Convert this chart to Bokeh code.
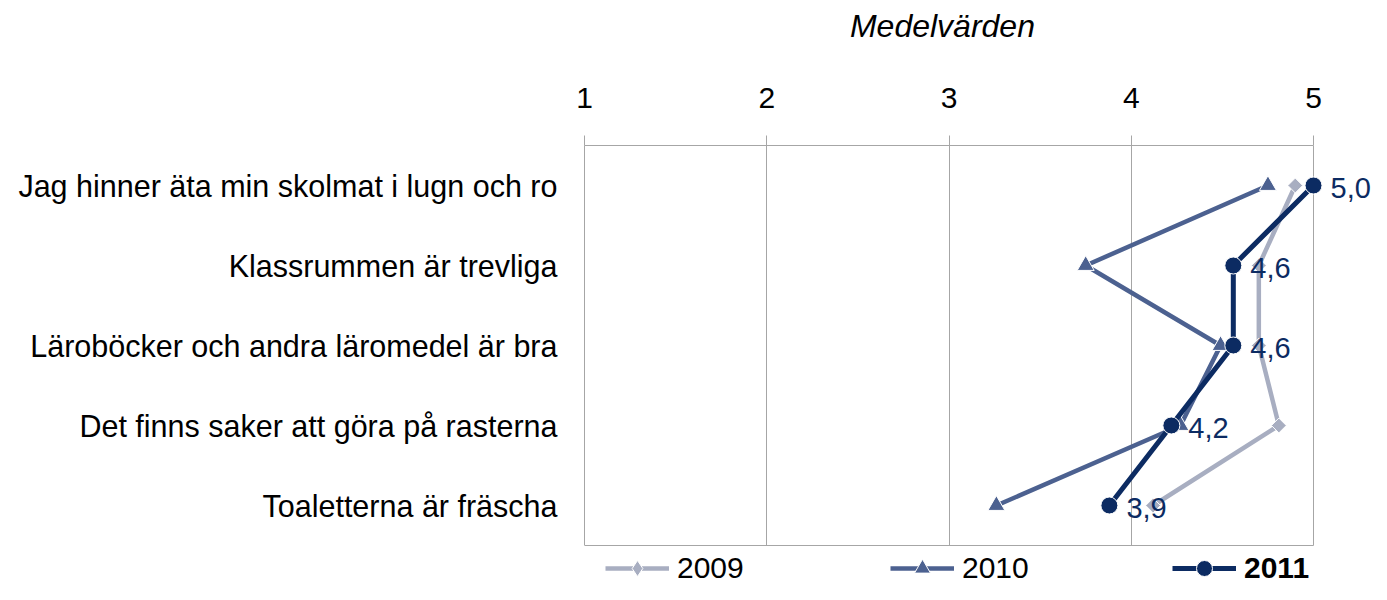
from bokeh.plotting import figure
from bokeh.models import (ColumnDataSource, Range1d, FixedTicker, LabelSet,
                          Legend, LegendItem)
from bokeh.core.properties import value
from bokeh.embed import file_html
from bokeh.resources import INLINE
import numpy as np

categories = [
    "Jag hinner äta min skolmat i lugn och ro",
    "Klassrummen är trevliga",
    "Läroböcker och andra läromedel är bra",
    "Det finns saker att göra på rasterna",
    "Toaletterna är fräscha",
]
v2009 = [4.90, 4.70, 4.70, 4.81, 4.12]
v2010 = [4.75, 3.75, 4.49, 4.27, 3.26]
v2011 = [5.00, 4.56, 4.56, 4.22, 3.88]
x_ticks = [1, 2, 3, 4, 5]
title_text = "Medelvärden"

FONT = "Liberation Sans"
C2009 = "#a8aec1"
C2010 = "#4c6190"
C2011 = "#0c2b62"
GRID = "#a6a6a6"

# layout (pixels)
W, H = 1371, 584
FL, FT = 584, 145          # frame left / top
PX_X = 729 / 4             # pixels per x unit
PX_Y = 80                  # pixels per category row
n = len(categories)
x_end = x_ticks[0] + (W - FL) / PX_X
y_start = -(H - FT - n * PX_Y) / PX_Y
TITLE_PAD = "\u00a0" * 8   # shifts the centred axis title over the 1..5 span

y_pos = [n - i - 0.5 for i in range(n)]
labels = [f"{v:.1f}".replace(".", ",") for v in v2011]
src = ColumnDataSource(dict(y=y_pos, v2009=v2009, v2010=v2010,
                            v2011=v2011, lab=labels))

p = figure(width=W, height=H, output_backend="svg", toolbar_location=None,
           x_range=Range1d(x_ticks[0], x_end), y_range=Range1d(y_start, n),
           x_axis_location="above",
           min_border_left=FL, min_border_right=0,
           min_border_top=FT, min_border_bottom=0)
p.background_fill_color = "white"
p.border_fill_color = "white"
p.outline_line_color = None

# x axis (top)
xa = p.xaxis[0]
xa.ticker = FixedTicker(ticks=x_ticks)
xa.bounds = (x_ticks[0], x_ticks[-1])
xa.minor_tick_line_color = None
xa.major_tick_out = 10
xa.major_tick_in = 0
xa.major_tick_line_color = GRID
xa.axis_line_color = GRID
xa.major_label_text_font = FONT
xa.major_label_text_font_size = "30px"
xa.major_label_text_color = "black"
xa.major_label_standoff = 28
xa.axis_label = title_text + TITLE_PAD
xa.axis_label_text_font = FONT
xa.axis_label_text_font_size = "32px"
xa.axis_label_text_font_style = "italic"
xa.axis_label_text_color = "black"
xa.axis_label_standoff = 41

# y axis (categories)
ya = p.yaxis[0]
ya.ticker = FixedTicker(ticks=y_pos)
ya.major_label_overrides = {y: c for y, c in zip(y_pos, categories)}
ya.bounds = (0, n)
ya.axis_line_color = GRID
ya.major_tick_line_color = None
ya.minor_tick_line_color = None
ya.major_label_text_font = FONT
ya.major_label_text_font_size = "30.5px"
ya.major_label_text_color = "black"
ya.major_label_standoff = 21

p.xgrid.ticker = FixedTicker(ticks=x_ticks)
p.xgrid.cross_bounds = (0, n)
p.xgrid.grid_line_color = GRID
p.ygrid.ticker = FixedTicker(ticks=[0])
p.ygrid.cross_bounds = (x_ticks[0], x_ticks[-1])
p.ygrid.grid_line_color = GRID

l09 = p.line("v2009", "y", source=src, line_color=C2009, line_width=4.5)
# diamond glyph used for the legend entry (sits hidden under the 2009 markers)
d09 = p.scatter("v2009", "y", source=src, marker="diamond", size=12,
                fill_color=C2009, line_color="white", line_width=1)
s09 = p.scatter("v2009", "y", source=src, marker="square", angle=np.pi / 4,
                size=10.5, fill_color=C2009, line_color="white", line_width=1)
l10 = p.line("v2010", "y", source=src, line_color=C2010, line_width=4.5)
s10 = p.scatter("v2010", "y", source=src, marker="triangle", size=17,
                fill_color=C2010, line_color="white", line_width=1)
l11 = p.line("v2011", "y", source=src, line_color=C2011, line_width=5)
s11 = p.scatter("v2011", "y", source=src, marker="circle", size=17,
                fill_color=C2011, line_color="white", line_width=1)

p.add_layout(LabelSet(x="v2011", y="y", text="lab", source=src,
                      x_offset=17, y_offset=-2, text_baseline="middle",
                      text_font=value(FONT), text_font_size=value("29px"),
                      text_color=C2011))

def make_legend(name, rends, x, bold=False):
    lg = Legend(items=[LegendItem(label=name, renderers=rends)],
                location=(x, -4), orientation="horizontal",
                padding=0, margin=0, spacing=0,
                glyph_width=64, glyph_height=40, label_height=30,
                label_standoff=8,
                label_text_font=FONT, label_text_font_size="30px",
                label_text_color="black",
                label_text_font_style="bold" if bold else "normal",
                border_line_color=None, background_fill_alpha=0)
    p.add_layout(lg, "center")

make_legend("2009", [l09, d09], 21)
make_legend("2010", [l10, s10], 306)
make_legend("2011", [l11, s11], 588, bold=True)

open("out.html", "w").write(file_html(p, INLINE))
